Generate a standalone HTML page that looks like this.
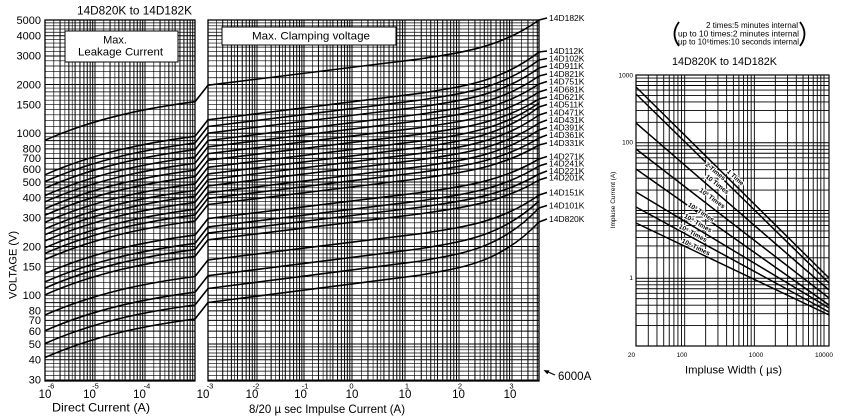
<!DOCTYPE html>
<html><head><meta charset="utf-8"><style>
html,body{margin:0;padding:0;background:#fff;width:846px;height:419px;overflow:hidden;}
svg{display:block;overflow:hidden;}
text{font-family:"Liberation Sans",Arial,sans-serif;fill:#000;}
</style></head><body>
<svg width="846" height="419" viewBox="0 0 846 419" xmlns="http://www.w3.org/2000/svg">
<defs>
<clipPath id="cLM"><rect x="45" y="20" width="150" height="361"/><rect x="208" y="20" width="331" height="361"/></clipPath>
<clipPath id="cR"><rect x="636" y="75" width="193" height="271"/></clipPath>
<g id="hd" fill="none" stroke="#000">
<path stroke-width="1" d="M0 0H846M0 -48.77H846M0 -77.29H846M0 -97.53H846M0 -113.23H846M0 -126.06H846M0 -136.91H846M0 -146.3H846M0 -154.59H846"/>
<path stroke-width="0.65" d="M0 -6.71H846M0 -12.83H846M0 -18.46H846M0 -23.67H846M0 -28.53H846M0 -33.07H846M0 -37.33H846M0 -41.35H846M0 -45.16H846M0 -55.47H846M0 -61.59H846M0 -67.23H846M0 -72.44H846M0 -81.83H846M0 -86.1H846M0 -90.12H846M0 -93.92H846M0 -100.97H846M0 -104.24H846M0 -107.37H846M0 -110.36H846M0 -119.94H846M0 -131.69H846M0 -141.76H846M0 -150.57H846M0 -158.39H846"/>
</g>
<g id="vd" fill="none" stroke="#000">
<path vector-effect="non-scaling-stroke" stroke-width="1" d="M0 20V381M30.1 20V381M47.71 20V381M60.21 20V381M69.9 20V381M77.82 20V381M84.51 20V381M90.31 20V381M95.42 20V381"/>
<path vector-effect="non-scaling-stroke" stroke-width="0.65" d="M17.61 20V381M39.79 20V381M54.41 20V381"/>
</g>
<g id="rh" fill="none" stroke="#000" stroke-width="0.9">
<path d="M636 0H829M636 -20.39H829M636 -32.33H829M636 -40.79H829M636 -47.36H829M636 -52.72H829M636 -57.26H829M636 -61.18H829M636 -64.65H829"/>
</g>
<g id="rv" fill="none" stroke="#000" stroke-width="0.9">
<path d="M0 75V346M20.97 75V346M33.24 75V346M41.94 75V346M48.69 75V346M54.2 75V346M58.87 75V346M62.91 75V346M66.47 75V346"/>
</g>
</defs>

<!-- Left & middle grids -->
<g clip-path="url(#cLM)">
<path fill="none" stroke="#000" stroke-width="1" d="M0 379.94H846M0 359.7H846M0 344H846M0 331.17H846M0 320.32H846M0 310.93H846M0 302.64H846"/>
<path fill="none" stroke="#000" stroke-width="0.65" d="M0 375.4H846M0 371.13H846M0 367.11H846M0 363.31H846M0 356.26H846M0 352.99H846M0 349.86H846M0 346.87H846M0 337.29H846M0 325.54H846M0 315.47H846M0 306.66H846M0 298.84H846"/>
<use href="#hd" transform="translate(0,295.23)"/>
<use href="#hd" transform="translate(0,133.23)"/>
<use href="#hd" transform="translate(0,-28.77)"/>
<use href="#vd" transform="translate(45,0) scale(0.5,1)"/>
<use href="#vd" transform="translate(95,0) scale(0.5,1)"/>
<use href="#vd" transform="translate(145,0) scale(0.5,1)"/>
<use href="#vd" transform="translate(208,0) scale(0.49,1)"/>
<use href="#vd" transform="translate(257,0) scale(0.47,1)"/>
<use href="#vd" transform="translate(304,0) scale(0.48,1)"/>
<use href="#vd" transform="translate(352,0) scale(0.53,1)"/>
<use href="#vd" transform="translate(405,0) scale(0.54,1)"/>
<use href="#vd" transform="translate(459,0) scale(0.53,1)"/>
<use href="#vd" transform="translate(512,0) scale(0.53,1)"/>
</g>
<rect x="45" y="20" width="150" height="361" fill="none" stroke="#000" stroke-width="1.3"/>
<rect x="208" y="20" width="331" height="361" fill="none" stroke="#000" stroke-width="1.3"/>

<!-- boxes -->
<rect x="65" y="31" width="113" height="31" fill="#fff" stroke="#000" stroke-width="1"/>
<text x="115" y="43.5" font-size="11" text-anchor="middle">Max.</text>
<text x="120.5" y="55.5" font-size="11" text-anchor="middle" textLength="85" lengthAdjust="spacingAndGlyphs">Leakage Current</text>
<rect x="222" y="27" width="174" height="18" fill="#fff" stroke="#000" stroke-width="1"/>
<text x="252" y="39.5" font-size="11" textLength="118" lengthAdjust="spacingAndGlyphs">Max. Clamping voltage</text>

<!-- curves -->
<g fill="none" stroke="#000" stroke-width="1.6" stroke-linejoin="round">
<path d="M45,140.2 C95,118.2 145,108.3 195,101.7 L208,85.2 L420,58.91 C459.67,52.65 499.33,48.5 539,20 L547,18"/>
<path d="M45,174.8 C95,152.8 145,142.9 195,136.3 L208,119.8 L420,93.32 C459.67,86.89 499.33,82.79 539,52 L547,51"/>
<path d="M45,181.5 C95,159.5 145,149.6 195,143 L208,126.5 L420,100.12 C459.67,93.78 499.33,89.64 539,60 L547,58.5"/>
<path d="M45,188.2 C95,166.2 145,156.3 195,149.7 L208,133.2 L420,106.91 C459.67,100.65 499.33,96.5 539,68 L547,66"/>
<path d="M45,195.5 C95,173.5 145,163.6 195,157 L208,140.5 L420,114.26 C459.67,108.04 499.33,103.88 539,76 L547,74"/>
<path d="M45,201.8 C95,179.8 145,169.9 195,163.3 L208,146.8 L420,120.68 C459.67,114.57 499.33,110.38 539,84 L547,81.5"/>
<path d="M45,208.7 C95,186.7 145,176.8 195,170.2 L208,153.7 L420,127.65 C459.67,121.61 499.33,117.41 539,92 L547,89.5"/>
<path d="M45,215.2 C95,193.2 145,183.3 195,176.7 L208,160.2 L420,134.19 C459.67,128.18 499.33,123.97 539,99 L547,97"/>
<path d="M45,222.3 C95,200.3 145,190.4 195,183.8 L208,167.3 L420,141.07 C459.67,134.87 499.33,130.7 539,103"/>
<path d="M45,228.9 C95,206.9 145,197 195,190.4 L208,173.9 L420,147.49 C459.67,141.12 499.33,137 539,107 L547,104.5"/>
<path d="M45,234.7 C95,212.7 145,202.8 195,196.2 L208,179.7 L420,153.44 C459.67,147.21 499.33,143.06 539,115 L547,112.5"/>
<path d="M45,240.9 C95,218.9 145,209 195,202.4 L208,185.9 L420,159.77 C459.67,153.65 499.33,149.47 539,123 L547,120"/>
<path d="M45,247.8 C95,225.8 145,215.9 195,209.3 L208,192.8 L420,166.68 C459.67,160.57 499.33,156.38 539,130 L547,127.5"/>
<path d="M45,253.4 C95,231.4 145,221.5 195,214.9 L208,198.4 L420,172.45 C459.67,166.49 499.33,162.26 539,138 L547,135"/>
<path d="M45,259.5 C95,237.5 145,227.6 195,221 L208,204.5 L420,178.61 C459.67,172.71 499.33,168.47 539,145 L547,143"/>
<path d="M45,273.6 C95,251.6 145,241.7 195,235.1 L208,218.6 L420,192.7 C459.67,186.79 499.33,182.56 539,159 L547,156.5"/>
<path d="M45,281.9 C95,259.9 145,250 195,243.4 L208,226.9 L420,200.91 C459.67,194.92 499.33,190.7 539,166 L547,163.5"/>
<path d="M45,288.1 C95,266.1 145,256.2 195,249.6 L208,233.1 L420,207.24 C459.67,201.36 499.33,197.11 539,174 L547,171"/>
<path d="M45,294.8 C95,272.8 145,262.9 195,256.3 L208,239.8 L420,213.89 C459.67,207.97 499.33,203.73 539,180 L547,177.5"/>
<path d="M45,315 C95,293 145,283.1 195,276.5 L208,260 L420,233.72 C459.67,227.47 499.33,223.32 539,195 L547,192.5"/>
<path d="M45,330.7 C95,308.7 145,298.8 195,292.2 L208,275.7 L420,248.74 C459.67,241.88 499.33,237.88 539,201"/>
<path d="M45,343.5 C95,321.5 145,311.6 195,305 L208,288.5 L420,261.13 C459.67,253.91 499.33,250 539,208 L547,205.5"/>
<path d="M45,357.5 C95,335.5 145,325.6 195,319 L208,302.5 L420,275.13 C459.67,267.91 499.33,264 539,222 L547,219"/>
</g>

<!-- curve labels -->
<g font-size="8.5">
<text x="549" y="21">14D182K</text>
<text x="549" y="54">14D112K</text>
<text x="549" y="61.5">14D102K</text>
<text x="549" y="69">14D911K</text>
<text x="549" y="77">14D821K</text>
<text x="549" y="84.5">14D751K</text>
<text x="549" y="92.5">14D681K</text>
<text x="549" y="100">14D621K</text>
<text x="549" y="107.5">14D511K</text>
<text x="549" y="115.5">14D471K</text>
<text x="549" y="123">14D431K</text>
<text x="549" y="130.5">14D391K</text>
<text x="549" y="138">14D361K</text>
<text x="549" y="146">14D331K</text>
<text x="549" y="159.5">14D271K</text>
<text x="549" y="166.5">14D241K</text>
<text x="549" y="174">14D221K</text>
<text x="549" y="180.5">14D201K</text>
<text x="549" y="195.5">14D151K</text>
<text x="549" y="208.5">14D101K</text>
<text x="549" y="222">14D820K</text>
</g>

<!-- title -->
<text x="77" y="14.5" font-size="11.5" textLength="115" lengthAdjust="spacingAndGlyphs">14D820K to 14D182K</text>

<!-- y labels -->
<g font-size="11" text-anchor="end">
<text x="41" y="24">5000</text>
<text x="41" y="39.5">4000</text>
<text x="41" y="59.7">3000</text>
<text x="41" y="88.3">2000</text>
<text x="41" y="108.5">1500</text>
<text x="41" y="137">1000</text>
<text x="41" y="152.7">800</text>
<text x="41" y="162.1">700</text>
<text x="41" y="173">600</text>
<text x="41" y="185.8">500</text>
<text x="41" y="201.5">400</text>
<text x="41" y="221.7">300</text>
<text x="41" y="250.3">200</text>
<text x="41" y="270.5">150</text>
<text x="41" y="299">100</text>
<text x="41" y="314.7">80</text>
<text x="41" y="324.1">70</text>
<text x="41" y="335">60</text>
<text x="41" y="347.8">50</text>
<text x="41" y="363.5">40</text>
<text x="41" y="383.7">30</text>
</g>
<text transform="translate(16.5,299) rotate(-90)" font-size="11">VOLTAGE (V)</text>

<!-- x tick labels -->
<g font-size="11.5" text-anchor="middle">
<text x="45" y="398">10</text>
<text x="89.5" y="398">10</text>
<text x="139.5" y="398">10</text>
<text x="203" y="398">10</text>
<text x="252" y="398">10</text>
<text x="300.5" y="398">10</text>
<text x="352" y="398">10</text>
<text x="405" y="398">10</text>
<text x="458.5" y="398">10</text>
<text x="510" y="398">10</text>
</g>
<g font-size="7.5" text-anchor="middle">
<text x="51" y="388.5">-6</text>
<text x="95.5" y="388.5">-5</text>
<text x="147" y="388.5">-4</text>
<text x="210" y="388.5">-3</text>
<text x="256" y="388.5">-2</text>
<text x="305" y="388.5">-1</text>
<text x="351.5" y="388.5">0</text>
<text x="407" y="388.5">1</text>
<text x="460" y="388.5">2</text>
<text x="511.5" y="388.5">3</text>
</g>
<text x="52" y="411.5" font-size="12" textLength="98" lengthAdjust="spacingAndGlyphs">Direct Current (A)</text>
<text x="249" y="413" font-size="12" textLength="156" lengthAdjust="spacingAndGlyphs">8/20 µ sec Impulse Current (A)</text>

<!-- 6000A arrow -->
<path d="M555,375 L547,371.5" stroke="#000" stroke-width="1.2" fill="none"/>
<path d="M543.5,370 L549.5,370.5 L547.3,374.3 Z" fill="#000"/>
<text x="558" y="380" font-size="11.5">6000A</text>

<!-- Right panel -->
<path d="M679,22 Q670,34 679,46" fill="none" stroke="#000" stroke-width="1.8"/>
<path d="M800,22 Q809,34 800,46" fill="none" stroke="#000" stroke-width="1.8"/>
<text x="706" y="28" font-size="8" textLength="92" lengthAdjust="spacingAndGlyphs">2 times:5 minutes internal</text>
<text x="678" y="36.5" font-size="8" textLength="121" lengthAdjust="spacingAndGlyphs">up to 10 times:2 minutes internal</text>
<text x="678" y="44.5" font-size="8" textLength="121" lengthAdjust="spacingAndGlyphs">up to 10⁶times:10 seconds internal</text>
<text x="672" y="65" font-size="11" textLength="105" lengthAdjust="spacingAndGlyphs">14D820K to 14D182K</text>

<g clip-path="url(#cR)">
<use href="#rh" transform="translate(0,346)"/>
<use href="#rh" transform="translate(0,278.25)"/>
<use href="#rh" transform="translate(0,210.5)"/>
<use href="#rh" transform="translate(0,142.75)"/>
<use href="#rv" transform="translate(615.03,0)"/>
<use href="#rv" transform="translate(684.69,0)"/>
<use href="#rv" transform="translate(754.35,0)"/>
<use href="#rv" transform="translate(824.01,0)"/>
</g>
<rect x="636" y="75" width="193" height="271" fill="none" stroke="#000" stroke-width="1.2"/>
<path d="M636 87L829 278M636 94L829 283M636 123L829 290M636 149L829 298M636 169L829 305M636 192L829 308M636 207L829 312M636 223L829 315" fill="none" stroke="#000" stroke-width="1.5"/>

<g font-size="6.5" font-weight="bold" text-anchor="middle" stroke="#fff" stroke-width="2.2" paint-order="stroke">
<text transform="translate(734,179) rotate(42)">1 Time</text>
<text transform="translate(714,173) rotate(40)">2 Times</text>
<text transform="translate(716,186) rotate(38)">10 Times</text>
<text transform="translate(711,200) rotate(36)">10² Times</text>
<text transform="translate(700,214) rotate(33)">10³ Times</text>
<text transform="translate(697,225) rotate(30)">10⁴ Times</text>
<text transform="translate(692,235) rotate(28)">10⁵ Times</text>
<text transform="translate(695,249) rotate(26)">10⁶ Times</text>
</g>

<g font-size="6.5" text-anchor="end">
<text x="633" y="77.5">1000</text>
<text x="633" y="144.5">100</text>
<text x="633" y="280">1</text>
</g>
<text transform="translate(615,200) rotate(-90)" font-size="6.5" text-anchor="middle">Impluse Current (A)</text>
<g font-size="6.5" text-anchor="middle">
<text x="631.5" y="357">20</text>
<text x="682" y="357">100</text>
<text x="756" y="357">1000</text>
<text x="824" y="357">10000</text>
</g>
<text x="685" y="373.5" font-size="11" textLength="97" lengthAdjust="spacingAndGlyphs">Impluse Width ( µs)</text>
</svg>
</body></html>
